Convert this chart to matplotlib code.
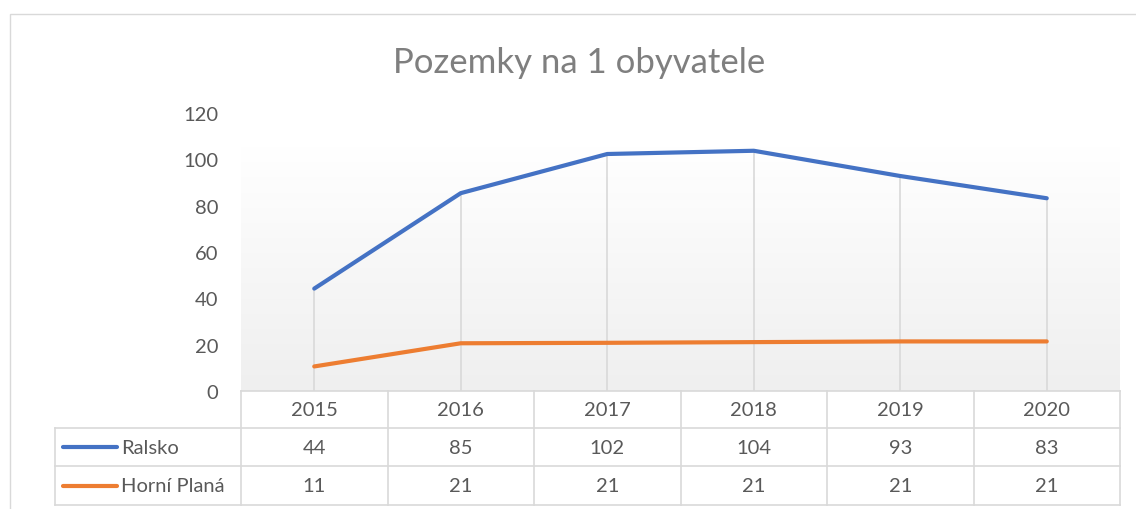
import numpy as np
import matplotlib
matplotlib.use('Agg')
import matplotlib.pyplot as plt
from matplotlib.transforms import blended_transform_factory
from matplotlib.patches import Rectangle

roky = ['2015', '2016', '2017', '2018', '2019', '2020']
ralsko = [44.2, 85.4, 102.3, 103.7, 92.8, 83.2]
horni_plana = [10.6, 20.6, 20.8, 21.1, 21.4, 21.4]
nazvy = ['Ralsko', 'Horní Planá']
barvy = ['#4472C4', '#ED7D31']
y_ticks = [0, 20, 40, 60, 80, 100, 120]

plt.rcParams['font.family'] = ['Lato', 'DejaVu Sans']
seda_text = '#595959'
seda_cara = '#d9d9d9'

W, H = 1136, 510
fig = plt.figure(figsize=(W / 100, H / 100), dpi=100)
fig.patch.set_facecolor('white')

# okraj grafu
fig.patches.append(Rectangle((10 / W, -0.1), 1.2, 1 - 15 / H + 0.1, transform=fig.transFigure,
                             fill=False, edgecolor=seda_cara, linewidth=1))

px_l, px_r, px_t, px_b = 241, 1120, 114, 392
ax = fig.add_axes([px_l / W, 1 - px_b / H, (px_r - px_l) / W, (px_b - px_t) / H])
ax.set_xlim(-0.5, len(roky) - 0.5)
ax.set_ylim(0, 120)

# gradient v ploše grafu (nahoře bílá, dole světle šedá)
grad = np.linspace(0, 1, 256).reshape(-1, 1)
grad = np.clip((grad - 0.12) / 0.88, 0, 1)
cmap = matplotlib.colors.LinearSegmentedColormap.from_list('g', ['#ffffff', '#efefef'])
ax.imshow(grad, aspect='auto', cmap=cmap, extent=(0, 1, 0, 1), origin='upper',
          transform=ax.transAxes, zorder=0)

x = np.arange(len(roky))
serie = [ralsko, horni_plana]

# svislé čáry (drop lines)
maxima = np.maximum(ralsko, horni_plana)
ax.vlines(x, 0, maxima, color=seda_cara, linewidth=1.2, zorder=1)

for hodnoty, barva in zip(serie, barvy):
    ax.plot(x, hodnoty, color=barva, linewidth=3, solid_capstyle='round', zorder=3)

for s in ax.spines.values():
    s.set_visible(False)
ax.set_xticks([])
ax.set_yticks(y_ticks)
ax.tick_params(axis='y', length=0, pad=16.5, labelsize=14.5, labelcolor=seda_text)

fig.text(579 / W, 1 - 63 / H, 'Pozemky na 1 obyvatele', fontsize=25, color='#7f7f7f',
         ha='center', va='center')

# tabulka dat
tr = blended_transform_factory(ax.transData, ax.transAxes)
px_to_ax = lambda p: (px_b - p) / (px_b - px_t)
radky = [392, 429, 467, 506]
ry = [px_to_ax(p) for p in radky]
dx = (len(roky)) / (px_r - px_l)
x_left = -0.5 - (px_l - 55) * dx
kw = dict(transform=tr, color=seda_cara, linewidth=1.2, clip_on=False)

ax.plot([-0.5, len(roky) - 0.5], [ry[0], ry[0]], **kw)
for r in ry[1:]:
    ax.plot([x_left, len(roky) - 0.5], [r, r], **kw)
for i in range(len(roky) + 1):
    ax.plot([i - 0.5, i - 0.5], [ry[0], ry[3]], **kw)
ax.plot([x_left, x_left], [ry[1], ry[3]], **kw)

for i, rok in enumerate(roky):
    ax.text(i, (ry[0] + ry[1]) / 2, rok, transform=tr, ha='center', va='center',
            fontsize=14.5, color=seda_text, clip_on=False)

for j, (hodnoty, nazev, barva) in enumerate(zip(serie, nazvy, barvy)):
    yc = (ry[j + 1] + ry[j + 2]) / 2
    for i, v in enumerate(hodnoty):
        ax.text(i, yc, f'{v:.0f}', transform=tr, ha='center', va='center',
                fontsize=14.5, color=seda_text, clip_on=False)
    ax.plot([-0.5 - (px_l - 63) * dx, -0.5 - (px_l - 117) * dx], [yc, yc], transform=tr,
            color=barva, linewidth=3, solid_capstyle='round', clip_on=False)
    ax.text(-0.5 - (px_l - 121) * dx, yc, nazev, transform=tr, ha='left', va='center',
            fontsize=14.5, color=seda_text, clip_on=False)

fig.savefig('out.png', dpi=100)
